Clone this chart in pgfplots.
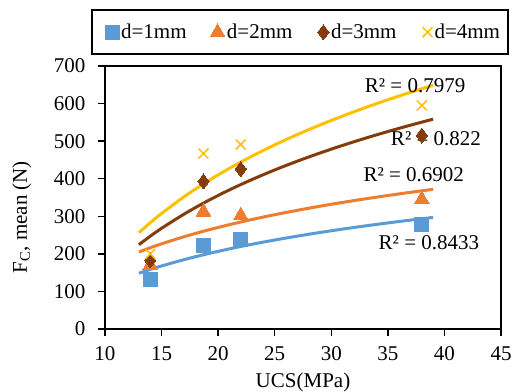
\documentclass[border=0pt]{standalone}
\usepackage{fontspec}
\setmainfont{Liberation Serif}
\usepackage{pgfplots}
\pgfplotsset{compat=1.18}
\definecolor{c1}{HTML}{5B9BD5}
\definecolor{c2}{HTML}{ED7D31}
\definecolor{c3}{HTML}{843C0C}
\definecolor{c4}{HTML}{FFC000}
\newcommand\ff{\fontsize{21bp}{25bp}\selectfont}
\begin{document}
\begin{tikzpicture}[font=\ff]
\useasboundingbox (-105bp,-63bp) rectangle (411bp,329bp);
\begin{axis}[at={(0,0)}, anchor=south west, scale only axis,
  width=396bp, height=263bp,
  xmin=10, xmax=45, ymin=0, ymax=700,
  xtick={10,15,...,45}, ytick={0,100,...,700},
  tick pos=left, tick align=outside, major tick length=7bp,
  axis line style={line width=1.5bp},
  every tick/.style={black, line width=1.5bp},
  /pgf/number format/assume math mode=true,
  tick label style={font=\ff},
  xticklabel style={yshift=-7bp},
  yticklabel style={xshift=-9bp},
  xlabel={UCS(MPa)},
  xlabel style={at={(axis description cs:0.5,-0.205)}, anchor=center, font=\ff},
  ylabel={F\textsubscript{C}, mean (N)},
  ylabel style={at={(axis description cs:-0.21,0.425)}, anchor=center, rotate=0, font=\ff},
  legend columns=4,
  legend image code/.code={\path[draw=none,fill=none] (-14bp,0bp) rectangle (5bp,0bp); \draw[#1] plot coordinates {(0bp,0bp)};},
  legend style={at={(rel axis cs:0.4926,1.1285)}, anchor=center, draw=black, line width=1.5bp,
    font=\ff, inner xsep=6bp, inner ysep=12bp,
    /tikz/every even column/.style={column sep=15bp}},
]
% trendlines (logarithmic fits, forecast 1 unit each way)
\addplot[c1, line width=3bp, smooth, forget plot] coordinates {(13,148.4)(14,158.4)(15,167.8)(17,184.7)(19,199.7)(21,213.3)(23,225.6)(25,236.8)(27,247.2)(29,256.9)(31,265.9)(33,274.4)(35,282.3)(37,289.8)(39,297.0)};
\addplot[c2, line width=3bp, smooth, forget plot] coordinates {(13,205.0)(14,216.2)(15,226.7)(17,245.7)(19,262.6)(21,277.8)(23,291.6)(25,304.2)(27,315.9)(29,326.8)(31,336.9)(33,346.4)(35,355.3)(37,363.8)(39,371.7)};
\addplot[c3, line width=3bp, smooth, forget plot] coordinates {(13,224.4)(14,247.0)(15,268.0)(17,306.0)(19,339.8)(21,370.3)(23,397.9)(25,423.3)(27,446.7)(29,468.4)(31,488.7)(33,507.7)(35,525.6)(37,542.5)(39,558.5)};
\addplot[c4, line width=3bp, smooth, forget plot] coordinates {(13,256.4)(14,282.9)(15,307.5)(17,352.2)(19,392.0)(21,427.7)(23,460.2)(25,490.0)(27,517.5)(29,543.0)(31,566.8)(33,589.2)(35,610.2)(37,630.0)(39,648.8)};
% data
\addplot[only marks, mark=square*, mark size=7bp, c1, mark options={solid, line width=0pt, draw=c1, fill=c1}] coordinates {(14,131)(18.7,222)(22,238)(38,278)};
\addplot[only marks, mark=triangle*, mark size=8.5bp, c2, mark options={solid, line width=0pt, draw=c2, fill=c2}] coordinates {(14,170)(18.7,312)(22,302)(38,345)};
\addplot[only marks, mark=diamond*, mark size=7.5bp, c3, mark options={solid, line width=0pt, draw=c3, fill=c3}] coordinates {(14,183)(18.7,393)(22,426)(38,515)};
\addplot[only marks, mark=x, mark size=7bp, c4, mark options={solid, line width=1.5bp, draw=c4}] coordinates {(14,200)(18.7,467)(22,491)(38,595)};
\legend{d=1mm, d=2mm, d=3mm, d=4mm}
\node[anchor=center] at (axis cs:37.41,646.8) {R² = 0.7979};
\node[anchor=center] at (axis cs:39.25,506.5) {R² = 0.822};
\node[anchor=center] at (axis cs:37.29,411.4) {R² = 0.6902};
\node[anchor=center] at (axis cs:38.63,229.3) {R² = 0.8433};
\end{axis}
\end{tikzpicture}
\end{document}
